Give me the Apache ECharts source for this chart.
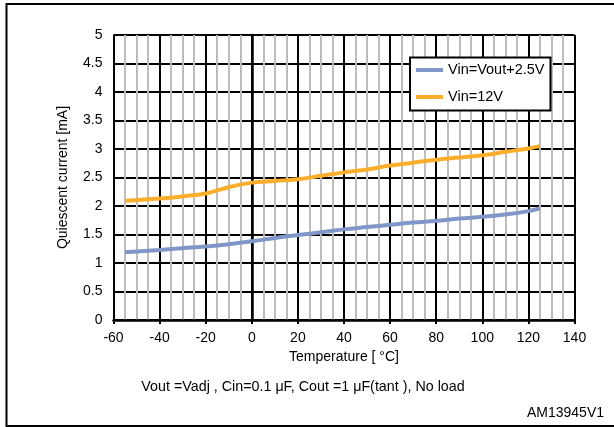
<!DOCTYPE html>
<html>
<head>
<meta charset="utf-8">
<script src="https://cdn.jsdelivr.net/npm/echarts@6/dist/echarts.min.js"></script>
<style>
html,body{margin:0;padding:0;background:#fff;}
#chart{width:614px;height:427px;}
</style>
</head>
<body>
<div id="chart"></div>
<script>
const temperatures = [-55, -40, -30, -20, -10, 0, 10, 20, 30, 40, 50, 60, 70, 80, 90, 100, 110, 120, 125];
const seriesNames = ['Vin=Vout+2.5V', 'Vin=12V'];
const currentVout25 = [1.19, 1.23, 1.26, 1.29, 1.33, 1.38, 1.44, 1.49, 1.54, 1.59, 1.63, 1.67, 1.71, 1.74, 1.78, 1.81, 1.85, 1.91, 1.96];
const current12V = [2.09, 2.13, 2.17, 2.22, 2.33, 2.41, 2.44, 2.47, 2.53, 2.59, 2.64, 2.71, 2.76, 2.81, 2.85, 2.89, 2.95, 3.01, 3.05];
const xAxisName = 'Temperature [ °C]';
const yAxisName = 'Quiescent current [mA]';
const footnote = 'Vout =Vadj , Cin=0.1 μF, Cout =1 μF(tant ), No load';
const figureId = 'AM13945V1';

const FONT = '"Liberation Sans", Arial, sans-serif';
const chart = echarts.init(document.getElementById('chart'), null, {renderer: 'canvas'});
const pair = (xs, ys) => xs.map((x, i) => [x, ys[i]]);

chart.setOption({
  animation: false,
  backgroundColor: '#fff',
  textStyle: {fontFamily: FONT, color: '#000'},
  grid: {left: 113.5, right: 39.5, top: 35, bottom: 107, containLabel: false},
  legend: {
    orient: 'vertical',
    left: 410, top: 57.5,
    padding: [5, 6, 6, 6],
    itemWidth: 27, itemHeight: 4, itemGap: 12,
    icon: 'rect',
    borderColor: '#000', borderWidth: 2,
    backgroundColor: '#fff',
    textStyle: {fontFamily: FONT, fontSize: 14.5, color: '#000'},
    data: seriesNames
  },
  xAxis: {
    type: 'value', min: -60, max: 140, interval: 20,
    name: xAxisName, nameLocation: 'middle', nameGap: 30,
    nameTextStyle: {fontFamily: FONT, fontSize: 14, color: '#000'},
    axisLine: {show: true, onZero: false, lineStyle: {color: '#000', width: 2.5}},
    axisTick: {show: true, length: 4, lineStyle: {color: '#000', width: 2}},
    axisLabel: {fontFamily: FONT, fontSize: 14, color: '#000', margin: 11},
    splitLine: {show: true, lineStyle: {color: '#000', width: 2}},
    minorTick: {show: false, splitNumber: 4},
    minorSplitLine: {show: true, lineStyle: {color: '#bdbdbd', width: 2}}
  },
  yAxis: {
    type: 'value', min: 0, max: 5, interval: 0.5,
    name: yAxisName, nameLocation: 'middle', nameGap: 43,
    nameTextStyle: {fontFamily: FONT, fontSize: 14, color: '#000'},
    axisLine: {show: true, lineStyle: {color: '#000', width: 2.5}},
    axisTick: {show: true, length: 4, lineStyle: {color: '#000', width: 2}},
    axisLabel: {fontFamily: FONT, fontSize: 14, color: '#000', margin: 11},
    splitLine: {show: true, lineStyle: {color: '#000', width: 2}}
  },
  series: [
    {
      name: seriesNames[0], type: 'line', data: pair(temperatures, currentVout25),
      smooth: 0.4, showSymbol: false, z: 5,
      lineStyle: {color: '#8096c8', width: 4}, itemStyle: {color: '#8096c8'}
    },
    {
      name: seriesNames[1], type: 'line', data: pair(temperatures, current12V),
      smooth: 0.4, showSymbol: false, z: 5,
      lineStyle: {color: '#fbae2c', width: 4}, itemStyle: {color: '#fbae2c'}
    }
  ],
  graphic: [
    {type: 'rect', shape: {x: 6.5, y: 4, width: 640, height: 422}, style: {fill: null, stroke: '#000', lineWidth: 2}, silent: true, z: 100},
    {type: 'text', x: 303, y: 387, style: {text: footnote, fontFamily: FONT, fontSize: 14.3, fill: '#000', align: 'center', verticalAlign: 'middle'}},
    {type: 'text', x: 604, y: 413, style: {text: figureId, fontFamily: FONT, fontSize: 14, fill: '#000', align: 'right', verticalAlign: 'middle'}}
  ]
});
</script>
</body>
</html>
